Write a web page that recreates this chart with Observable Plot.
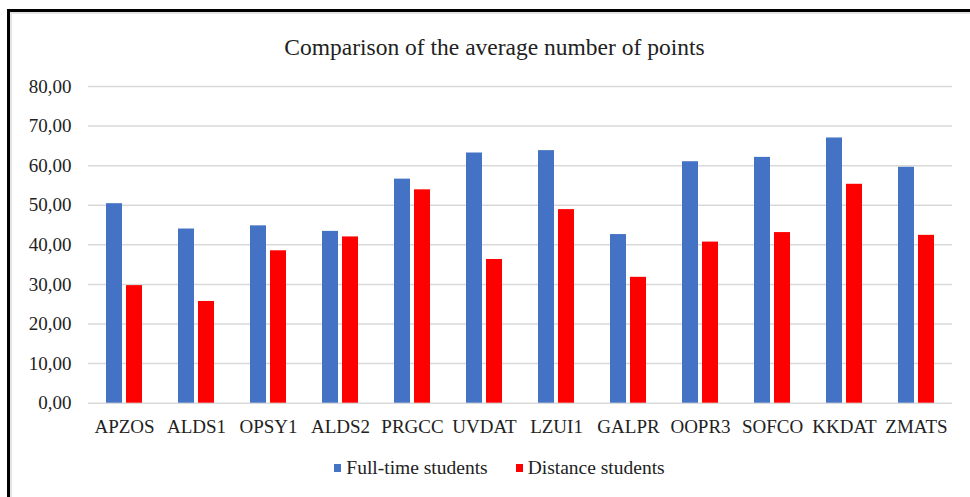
<!DOCTYPE html>
<html>
<head>
<meta charset="utf-8">
<script src="https://cdn.jsdelivr.net/npm/d3@7"></script>
<script src="https://cdn.jsdelivr.net/npm/@observablehq/plot@0.6"></script>
<style>
  html, body { margin: 0; padding: 0; background: #fff; }
  #page { position: relative; width: 970px; height: 497px; overflow: hidden; font-family: "Liberation Serif", Tinos, "Times New Roman", "DejaVu Serif", serif; color: #222; }
  #frame { position: absolute; left: 7px; top: 9px; width: 1000px; height: 600px; border-left: 3px solid #000; border-top: 3px solid #000; box-shadow: inset 2px 2px 0 #e4e4e4; }
  #title { position: absolute; left: 19px; width: 951px; top: 32px; text-align: center; font-size: 23.5px; line-height: 30px; }
  #chart { position: absolute; left: 0; top: 70px; }
  #legend { position: absolute; left: 19px; width: 961px; top: 456px; display: flex; justify-content: center; align-items: center; font-size: 19.5px; line-height: 24px; }
  .item { display: flex; align-items: center; margin: 0 14px; }
  .sw { width: 7px; height: 8px; margin-right: 5px; }
  #chart svg text { font-family: "Liberation Serif", Tinos, "Times New Roman", "DejaVu Serif", serif; }
</style>
</head>
<body>
<div id="page">
  <div id="frame"></div>
  <div id="title">Comparison of the average number of points</div>
  <div id="chart"></div>
  <div id="legend"></div>
</div>
<script>
const categories = ["APZOS","ALDS1","OPSY1","ALDS2","PRGCC","UVDAT","LZUI1","GALPR","OOPR3","SOFCO","KKDAT","ZMATS"];
const seriesNames = ["Full-time students", "Distance students"];
const fullTime = [50.4, 44.0, 44.8, 43.4, 56.6, 63.2, 63.8, 42.6, 61.0, 62.1, 67.0, 59.6];
const distance = [29.7, 25.7, 38.5, 42.0, 53.9, 36.3, 48.9, 31.8, 40.7, 43.1, 55.3, 42.4];
const seriesColors = ["#4472c4", "#ff0000"];
const yTicks = [0, 10, 20, 30, 40, 50, 60, 70, 80];

const rows = [];
categories.forEach((c, i) => {
  rows.push({category: c, series: seriesNames[0], value: fullTime[i]});
  rows.push({category: c, series: seriesNames[1], value: distance[i]});
});

const fmt = d => d.toFixed(2).replace(".", ",");

const chart = Plot.plot({
  width: 970,
  height: 380,
  marginLeft: 86,
  marginRight: 16,
  marginTop: 16,
  marginBottom: 47.3,
  style: {fontFamily: "'Liberation Serif', Tinos, 'Times New Roman', 'DejaVu Serif', serif", fontSize: "19px", color: "#222", background: "transparent"},
  fx: {domain: categories, padding: 0, label: null},
  x: {domain: seriesNames, paddingInner: 0.2, paddingOuter: 0.86, axis: null},
  y: {domain: [0, 80], label: null},
  color: {domain: seriesNames, range: seriesColors},
  marks: [
    Plot.gridY(yTicks, {stroke: "#d9d9d9", strokeOpacity: 1, strokeWidth: 1.5}),
    Plot.barY(rows, {fx: "category", x: "series", y: "value", fill: "series"}),
    Plot.axisY(yTicks, {tickFormat: fmt, tickSize: 0, tickPadding: 17, fontSize: 19, label: null}),
    Plot.axisFx({anchor: "bottom", tickSize: 0, tickPadding: 16, fontSize: 19, label: null})
  ]
});
document.getElementById("chart").appendChild(chart);

const legend = document.getElementById("legend");
seriesNames.forEach((s, i) => {
  const item = document.createElement("div");
  item.className = "item";
  const sw = document.createElement("span");
  sw.className = "sw";
  sw.style.background = seriesColors[i];
  const t = document.createElement("span");
  t.textContent = s;
  item.appendChild(sw);
  item.appendChild(t);
  legend.appendChild(item);
});
</script>
</body>
</html>
